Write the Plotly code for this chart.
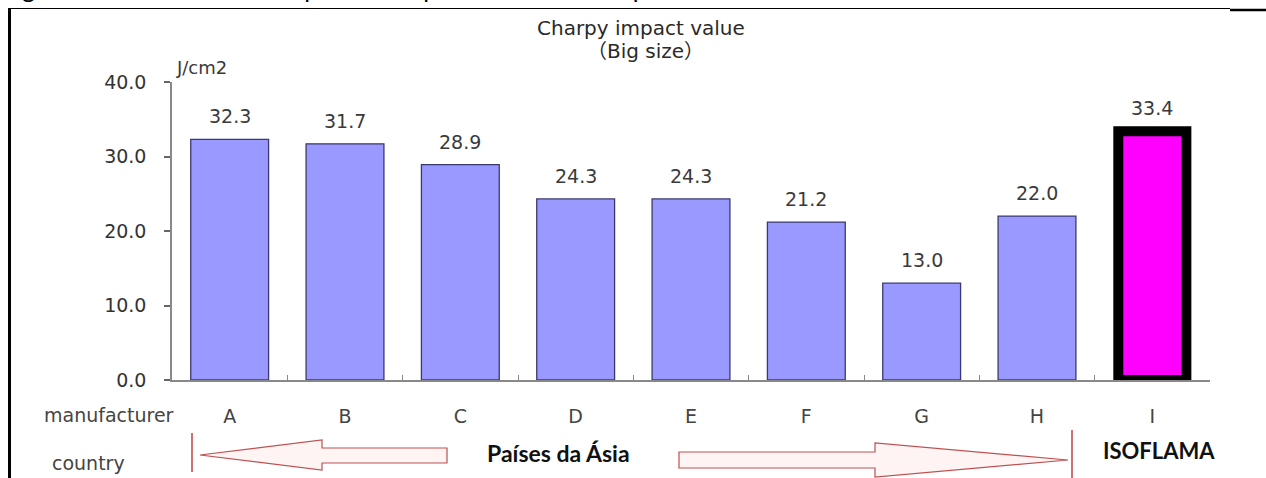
import plotly.graph_objects as go

# ---- data ----
manufacturers = ["A", "B", "C", "D", "E", "F", "G", "H", "I"]
impact_values = [32.3, 31.7, 28.9, 24.3, 24.3, 21.2, 13.0, 22.0, 33.4]
y_ticks = [0, 10, 20, 30, 40]
bar_colors = ["#9999ff"] * 8 + ["#ff00ff"]
line_colors = ["#3a3a70"] * 8 + ["#000000"]
line_widths = [1.3] * 8 + [10]
bar_widths = [0.675] * 8 + [0.59]

W, H = 1266, 478
ML, MR, MT, MB = 172, 56, 82, 98
PW, PH = W - ML - MR, H - MT - MB

def px(x):
    return (x - ML) / PW

def py(y):
    return (H - MB - y) / PH

fig = go.Figure()
fig.add_trace(go.Bar(
    x=manufacturers, y=impact_values, width=bar_widths,
    marker=dict(color=bar_colors, line=dict(color=line_colors, width=line_widths)),
    showlegend=False, hoverinfo="skip",
))

ann = []
for m, v in zip(manufacturers, impact_values):
    ann.append(dict(x=m, y=v, xref="x", yref="y", text=f"{v:.1f}", showarrow=False,
                    yanchor="bottom", yshift=10,
                    font=dict(family="DejaVu Sans", size=19, color="#3a3a3a")))

txt = dict(showarrow=False, xref="paper", yref="paper")
ann += [
    dict(text="Charpy impact value", x=px(641), y=py(28), xanchor="center", yanchor="middle",
         font=dict(family="DejaVu Sans", size=20, color="#2a2a2a"), **txt),
    dict(text="（Big size）", x=px(645), y=py(51), xanchor="center", yanchor="middle",
         font=dict(family="DejaVu Sans, Noto Sans CJK JP", size=20, color="#2a2a2a"), **txt),
    dict(text="J/cm2", x=px(174), y=py(68), xanchor="left", yanchor="middle",
         font=dict(family="DejaVu Sans", size=18, color="#3a3a3a"), **txt),
    dict(text="manufacturer", x=px(109), y=py(415), xanchor="center", yanchor="middle",
         font=dict(family="DejaVu Sans", size=19, color="#444444"), **txt),
    dict(text="country", x=px(88), y=py(463), xanchor="center", yanchor="middle",
         font=dict(family="DejaVu Sans", size=19, color="#444444"), **txt),
    dict(text="<b>Países da Ásia</b>", x=px(558), y=py(453), xanchor="center", yanchor="middle",
         font=dict(family="Lato", size=23, color="#111111"), **txt),
    dict(text="<b>ISOFLAMA</b>", x=px(1159), y=py(450), xanchor="center", yanchor="middle",
         font=dict(family="Lato", size=22, color="#111111"), **txt),
    dict(text="Figura 2 – Resultados de impacto Comparativo em Vários países", x=px(0), y=py(-12),
         xanchor="left", yanchor="middle",
         font=dict(family="Lato", size=25, color="#000000"), **txt),
]

def path(points):
    return "M " + " L ".join(f"{px(a):.5f},{py(b):.5f}" for a, b in points) + " Z"

arrow_style = dict(type="path", xref="paper", yref="paper",
                   line=dict(color="#c05050", width=1.2), fillcolor="#fff4f4", layer="above")
shapes = [
    dict(path=path([(200, 455), (322, 440), (322, 448), (447, 448), (447, 463), (322, 463), (322, 470)]),
         **arrow_style),
    dict(path=path([(679, 452), (875, 452), (875, 443), (1068, 460), (875, 477), (875, 468), (679, 468)]),
         **arrow_style),
    dict(type="line", xref="paper", yref="paper", x0=px(192), x1=px(192), y0=py(433), y1=py(472),
         line=dict(color="#c04040", width=1.5)),
    dict(type="line", xref="paper", yref="paper", x0=px(1072), x1=px(1072), y0=py(430), y1=py(480),
         line=dict(color="#c04040", width=1.5)),
    # page frame
    dict(type="line", xref="paper", yref="paper", x0=px(9.5), x1=px(9.5), y0=py(8), y1=py(485),
         line=dict(color="#000000", width=3)),
    dict(type="line", xref="paper", yref="paper", x0=px(8), x1=px(1230), y0=py(8.5), y1=py(8.5),
         line=dict(color="#000000", width=1.2)),
    dict(type="line", xref="paper", yref="paper", x0=px(1230), x1=px(1270), y0=py(10), y1=py(10),
         line=dict(color="#000000", width=2.5)),
]

fig.update_layout(
    width=W, height=H, autosize=False,
    margin=dict(l=ML, r=MR, t=MT, b=MB, pad=0),
    paper_bgcolor="white", plot_bgcolor="white",
    annotations=ann, shapes=shapes, bargap=0.3,
    xaxis=dict(type="category", range=[-0.5, 8.5], showline=True, linecolor="#888888", linewidth=1.5,
               ticks="inside", tickson="boundaries", ticklen=5, tickcolor="#888888", tickwidth=1.2,
               showgrid=False, zeroline=False, ticklabelstandoff=18,
               tickfont=dict(family="DejaVu Sans", size=19, color="#444444")),
    yaxis=dict(range=[0, 40], tickvals=y_ticks, tickformat=".1f", showline=True, linecolor="#888888",
               linewidth=1.5, ticks="outside", ticklen=6, tickcolor="#666666", tickwidth=1.5,
               showgrid=False, zeroline=False, ticklabelstandoff=14,
               tickfont=dict(family="DejaVu Sans", size=19, color="#333333")),
)

fig.write_html("out.html", config={"displayModeBar": False},
               post_script="document.body.style.margin='0';")
